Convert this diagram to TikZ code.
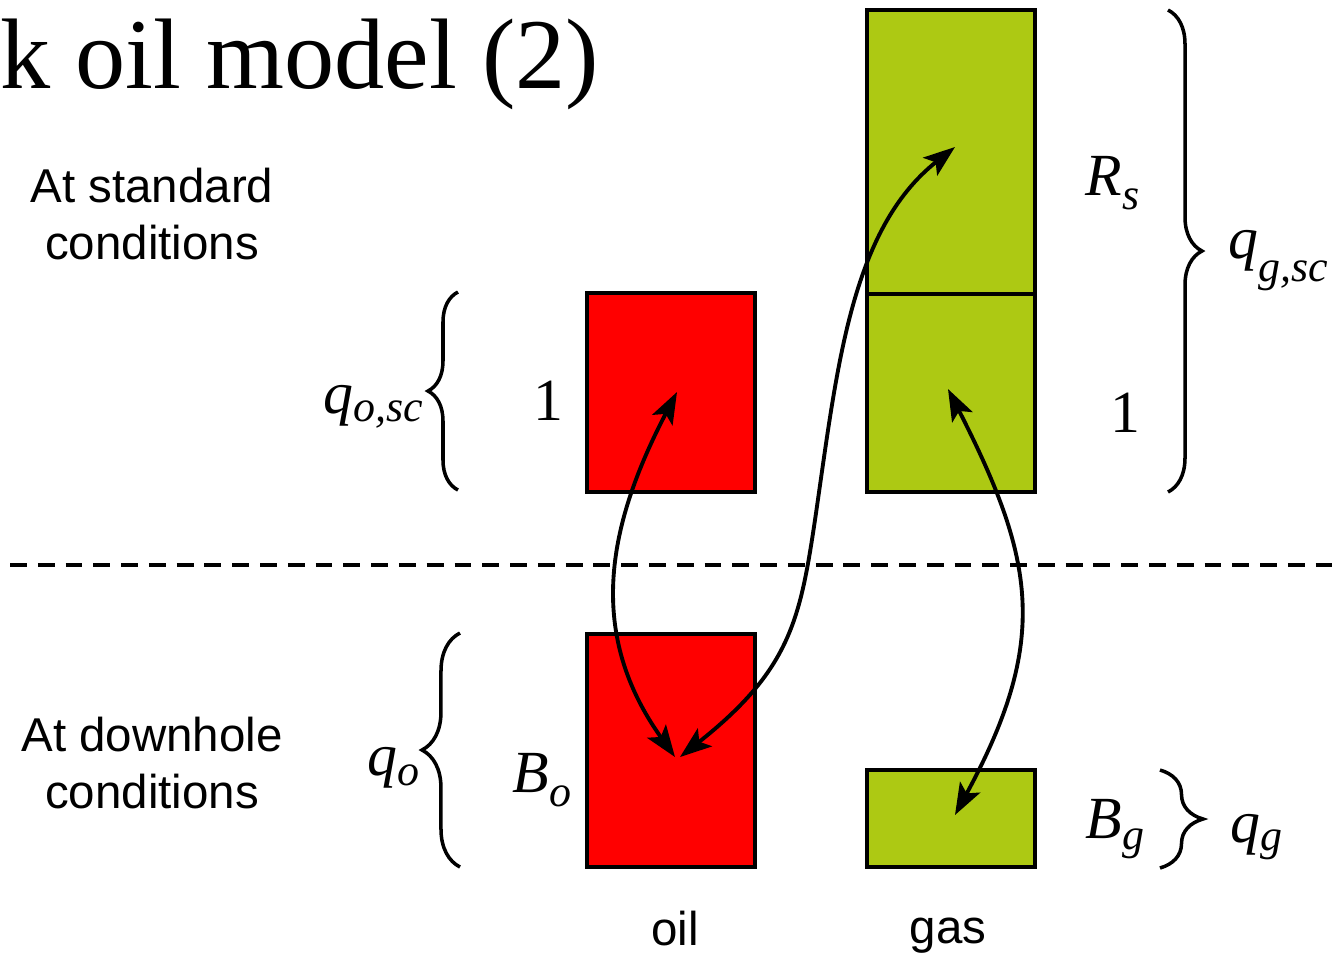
\documentclass[tikz,border=0pt]{standalone}
\usepackage{fontspec}
\setmainfont{Liberation Serif}
\newfontfamily\labelfont{Liberation Sans}
\usetikzlibrary{arrows.meta,decorations.pathreplacing}
\definecolor{gasgreen}{HTML}{ADC913}
\newcommand\subsym[3]{\textit{#1}\raisebox{-#3}{\fontsize{12.5}{12.5}\selectfont\textit{#2}}}

\begin{document}
\begin{tikzpicture}[x=0.01cm,y=-0.01cm,>={Stealth[length=9pt,width=6.5pt,inset=2pt]},
  oilbox/.style={draw,line width=1pt,fill=red},
  gasbox/.style={draw,line width=1pt,fill=gasgreen},
  flow/.style={<->,line width=1.1pt},
  brc/.style={decorate,decoration={brace,amplitude=#1},line width=1pt},
  txt/.style={font=\labelfont\fontsize{13.5}{16.2}\selectfont,align=center},
  mathlbl/.style={inner sep=0pt,font=\fontsize{17}{17}\selectfont}]
 \useasboundingbox (0,0) rectangle (1332,956);
 \node[anchor=base west,inner sep=0pt,font=\fontsize{28.5}{28.5}\selectfont] (title) at (0,88) {k oil model (2)};
 \node[txt] (std) at (152,214) {At standard\\conditions};
 \node[txt] (dh) at (152,763) {At downhole\\conditions};
 % boxes
 \draw[oilbox] (587,293) rectangle (755,492);
 \draw[oilbox] (587,634) rectangle (755,867);
 \draw[gasbox] (867,10) rectangle (1035,492);
 \draw[line width=1pt] (867,294) -- (1035,294);
 \draw[gasbox] (867,770) rectangle (1035,867);
 \draw[dash pattern=on 4.8pt off 3.1pt,line width=1pt] (10,565) -- (1332,565);
 \node[txt,anchor=base] (oil) at (675,945) {oil};
 \node[txt,anchor=base] (gas) at (948,943) {gas};
 % braces and labels
 \draw[brc=3mm] (458,490) -- (458,292);
 \draw[brc=3.8mm] (460,867) -- (460,633);
 \draw[brc=3.4mm] (1168,10) -- (1168,492);
 \draw[brc=4.3mm] (1160,770) -- (1160,868);
 \node[mathlbl,anchor=base east] (qosc) at (424,413) {\subsym{q}{o,sc}{.15em}};
 \node[mathlbl,anchor=base] (oneo) at (548,420) {1};
 \node[mathlbl,anchor=base east] (qo) at (420,775) {\subsym{q}{o}{.17em}};
 \node[mathlbl,anchor=base west] (bo) at (512,792) {\subsym{B}{o}{.25em}};
 \node[mathlbl,anchor=base west] (rs) at (1085,195) {\subsym{R}{s}{.25em}};
 \node[mathlbl,anchor=base] (oneg) at (1125,432) {1};
 \node[mathlbl,anchor=base west] (qgsc) at (1228,258) {\subsym{q}{g,sc}{.4em}};
 \node[mathlbl,anchor=base west] (bg) at (1085,838) {\subsym{B}{g}{.2em}};
 \node[mathlbl,anchor=base west] (qg) at (1230,842) {\subsym{q}{g}{.15em}};
 % arrows
 \coordinate (oilup) at (677,392);
 \coordinate (oildn) at (675,757);
 \coordinate (bodn) at (680,757);
 \coordinate (bend) at (815,520);
 \coordinate (rsup) at (955,147);
 \coordinate (gasup) at (948,389);
 \coordinate (gasdn) at (955,815);
 \draw[flow] (oilup) .. controls (605,530) and (588,635) .. (oildn);
 \draw[flow] (bodn) .. controls (790,670) and (800,620) .. (bend) .. controls (837,370) and (850,230) .. (rsup);
 \draw[flow] (gasup) .. controls (1035,560) and (1050,640) .. (gasdn);
\end{tikzpicture}
\end{document}
